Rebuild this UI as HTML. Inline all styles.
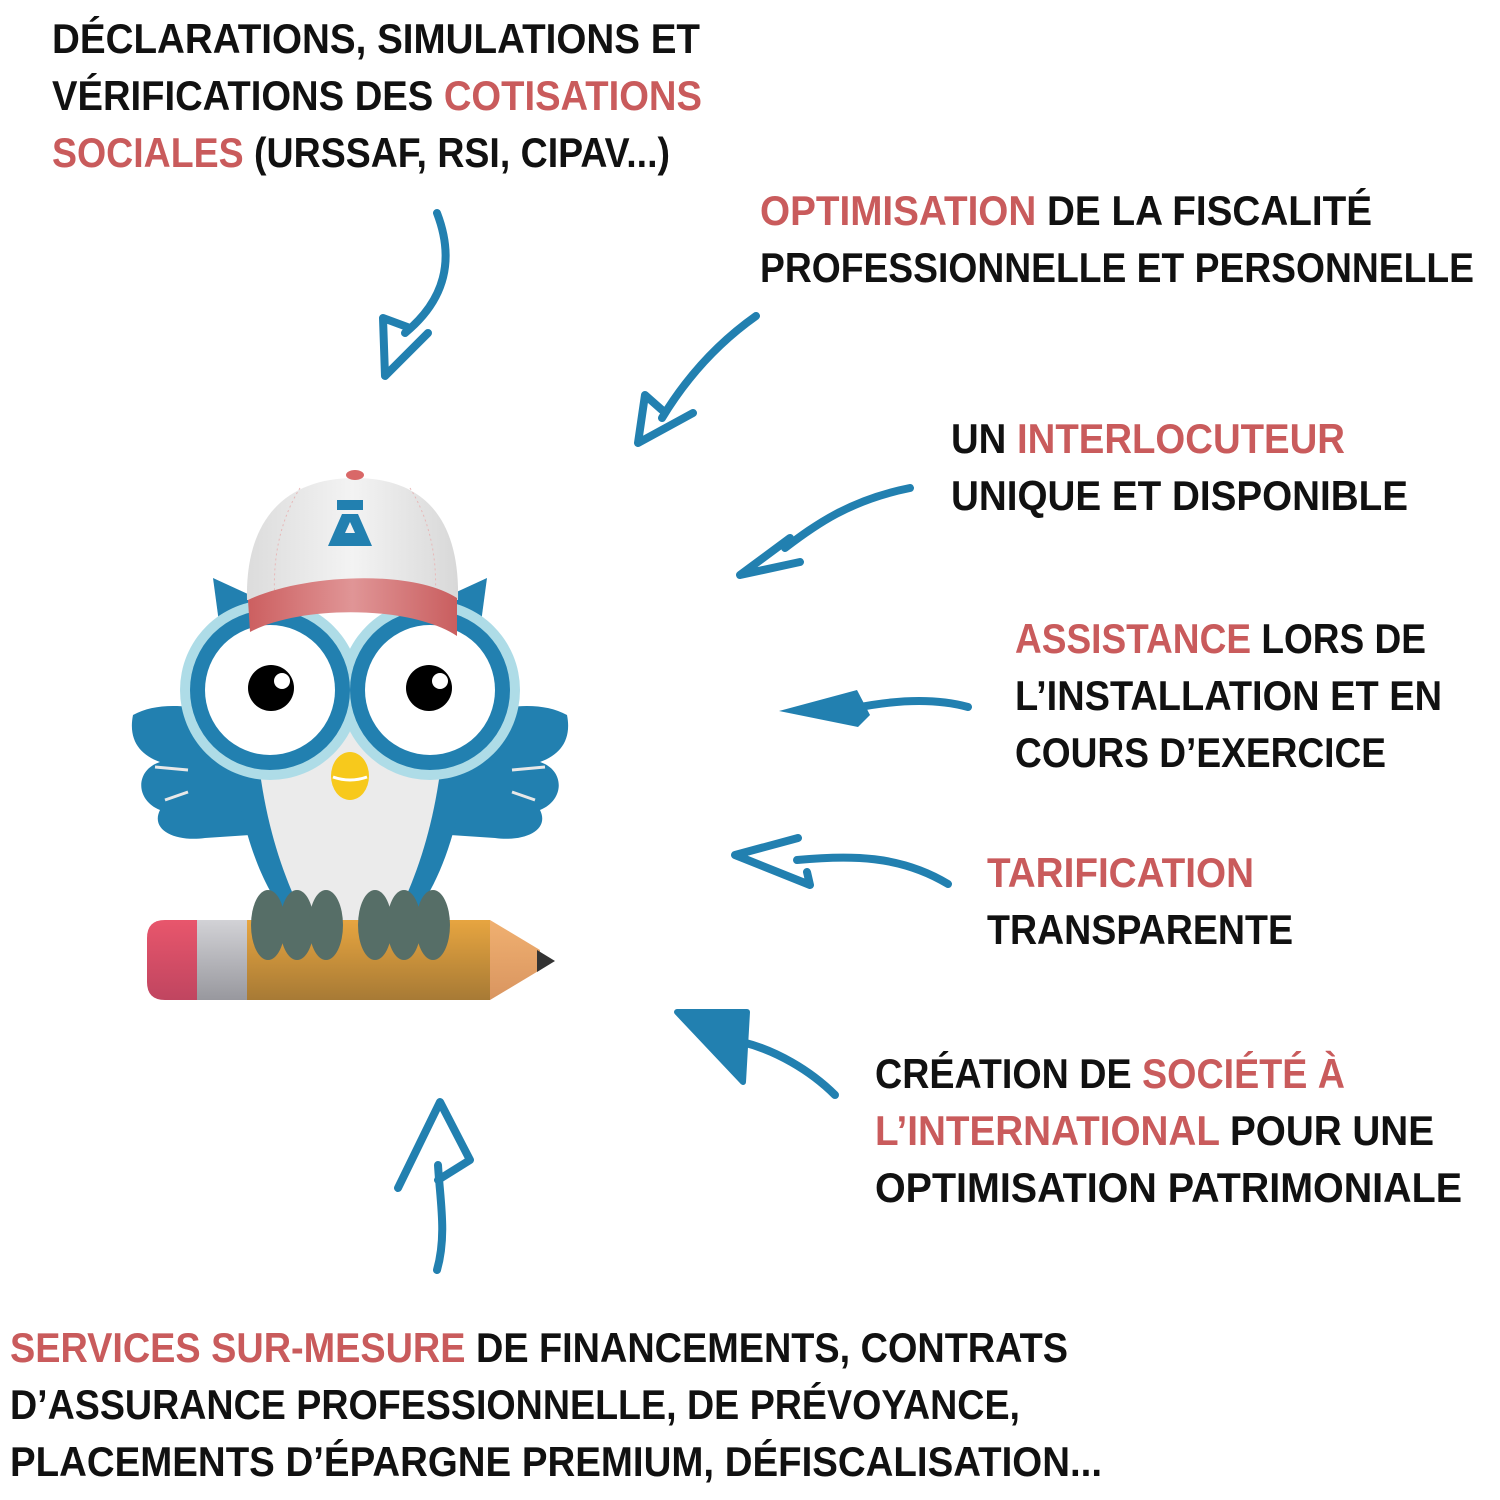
<!DOCTYPE html>
<html><head><meta charset="utf-8"><style>
html,body{margin:0;padding:0;background:#fff}
svg{display:block}
text{font-family:"Liberation Sans",sans-serif;font-weight:bold;font-size:42px;fill:#111}
.r{fill:#c95b5c}
</style></head><body>
<svg width="1500" height="1500" viewBox="0 0 1500 1500" xmlns="http://www.w3.org/2000/svg">
<defs>
<linearGradient id="cap" x1="0" x2="1"><stop offset="0" stop-color="#dcdcdc"/><stop offset="0.5" stop-color="#f3f3f3"/><stop offset="1" stop-color="#d8d8d8"/></linearGradient>
<linearGradient id="brim" x1="0" x2="1"><stop offset="0" stop-color="#cc5f60"/><stop offset="0.5" stop-color="#e09596"/><stop offset="1" stop-color="#c95e5f"/></linearGradient>
<linearGradient id="pen" x1="0" y1="0" x2="0" y2="1"><stop offset="0" stop-color="#e7a540"/><stop offset="1" stop-color="#a77a35"/></linearGradient>
<linearGradient id="tip" x1="0" y1="0" x2="0" y2="1"><stop offset="0" stop-color="#f0b070"/><stop offset="1" stop-color="#d99560"/></linearGradient>
<linearGradient id="er" x1="0" y1="0" x2="0" y2="1"><stop offset="0" stop-color="#e8566c"/><stop offset="1" stop-color="#c04560"/></linearGradient>
<linearGradient id="fe" x1="0" y1="0" x2="0" y2="1"><stop offset="0" stop-color="#d2d2d6"/><stop offset="1" stop-color="#98989e"/></linearGradient>
</defs>

<g transform="translate(0,-2)">
<text x="52" y="55" textLength="648" lengthAdjust="spacingAndGlyphs">DÉCLARATIONS, SIMULATIONS ET</text>
<text x="52" y="112" textLength="650" lengthAdjust="spacingAndGlyphs">VÉRIFICATIONS DES <tspan class="r">COTISATIONS</tspan></text>
<text x="52" y="169" textLength="618" lengthAdjust="spacingAndGlyphs"><tspan class="r">SOCIALES</tspan> (URSSAF, RSI, CIPAV...)</text>

<text x="760" y="227" textLength="612" lengthAdjust="spacingAndGlyphs"><tspan class="r">OPTIMISATION</tspan> DE LA FISCALITÉ</text>
<text x="760" y="284" textLength="714" lengthAdjust="spacingAndGlyphs">PROFESSIONNELLE ET PERSONNELLE</text>

<text x="951" y="455" textLength="394" lengthAdjust="spacingAndGlyphs">UN <tspan class="r">INTERLOCUTEUR</tspan></text>
<text x="951" y="512" textLength="457" lengthAdjust="spacingAndGlyphs">UNIQUE ET DISPONIBLE</text>

<text x="1015" y="655" textLength="411" lengthAdjust="spacingAndGlyphs"><tspan class="r">ASSISTANCE</tspan> LORS DE</text>
<text x="1015" y="712" textLength="427" lengthAdjust="spacingAndGlyphs">L’INSTALLATION ET EN</text>
<text x="1015" y="769" textLength="371" lengthAdjust="spacingAndGlyphs">COURS D’EXERCICE</text>

<text x="987" y="889" textLength="267" lengthAdjust="spacingAndGlyphs" class="r">TARIFICATION</text>
<text x="987" y="946" textLength="306" lengthAdjust="spacingAndGlyphs">TRANSPARENTE</text>

<text x="875" y="1090" textLength="470" lengthAdjust="spacingAndGlyphs">CRÉATION DE <tspan class="r">SOCIÉTÉ À</tspan></text>
<text x="875" y="1147" textLength="559" lengthAdjust="spacingAndGlyphs"><tspan class="r">L’INTERNATIONAL</tspan> POUR UNE</text>
<text x="875" y="1204" textLength="587" lengthAdjust="spacingAndGlyphs">OPTIMISATION PATRIMONIALE</text>

<text x="10" y="1364" textLength="1058" lengthAdjust="spacingAndGlyphs"><tspan class="r">SERVICES SUR-MESURE</tspan> DE FINANCEMENTS, CONTRATS</text>
<text x="10" y="1421" textLength="1010" lengthAdjust="spacingAndGlyphs">D’ASSURANCE PROFESSIONNELLE, DE PRÉVOYANCE,</text>
<text x="10" y="1478" textLength="1092" lengthAdjust="spacingAndGlyphs">PLACEMENTS D’ÉPARGNE PREMIUM, DÉFISCALISATION...</text>
</g>

<g fill="none" stroke="#2280b0" stroke-width="8" stroke-linecap="round" stroke-linejoin="round">
<path d="M437,213 C455,260 445,300 405,333"/>
<path d="M410,328 L383,318 L385,376 L428,333"/>
<path d="M756,316 C715,345 685,380 662,418"/>
<path d="M662,410 L645,395 L638,443 L693,413" />
<path d="M910,488 C850,500 815,525 785,548"/>
<path d="M790,538 L740,575 L800,562"/>
<path d="M968,707 C935,698 895,700 855,708"/>
<path d="M948,884 C900,855 850,855 797,860"/>
<path d="M798,838 L735,855 L810,885 L807,872"/>
<path d="M835,1095 C810,1070 775,1050 742,1042"/>
<path d="M437,1270 C447,1235 440,1200 438,1165"/>
<path d="M438,1180 L470,1160 L440,1102 L398,1188"/>
</g>
<path d="M779,711 L857,690 L870,715 L858,727 Z" fill="#2280b0"/>
<path d="M677,1012 L747,1012 L743,1082 Z" fill="#2280b0" stroke="#2280b0" stroke-width="6" stroke-linejoin="round"/>

<g>
<path d="M245,720 C200,705 160,700 133,715 C128,740 140,755 160,762 C135,770 135,800 160,810 C150,830 175,842 205,838 L250,835 Z" fill="#2280b0"/>
<path d="M455,720 C500,705 540,700 567,715 C572,740 560,755 540,762 C565,770 565,800 540,810 C550,830 525,842 495,838 L450,835 Z" fill="#2280b0"/>
<path d="M155,767 L188,770 M165,800 L188,792" stroke="#e8e8e8" stroke-width="3" fill="none"/>
<path d="M545,767 L512,770 M535,800 L512,792" stroke="#e8e8e8" stroke-width="3" fill="none"/>
<path d="M213,578 L250,595 L240,640 L220,630 Z" fill="#2280b0"/>
<path d="M487,578 L450,595 L460,640 L480,630 Z" fill="#2280b0"/>
<path d="M230,700 C230,800 255,880 290,920 L410,920 C445,880 470,800 470,700 Z" fill="#2280b0"/>
<path d="M255,720 C260,810 280,870 305,920 L395,920 C420,870 440,810 445,720 Z" fill="#ebebeb"/>
<circle cx="270" cy="690" r="90" fill="#aedce7"/>
<circle cx="430" cy="690" r="90" fill="#aedce7"/>
<circle cx="270" cy="690" r="80" fill="#2280b0"/>
<circle cx="430" cy="690" r="80" fill="#2280b0"/>
<circle cx="270" cy="690" r="65" fill="#fff"/>
<circle cx="430" cy="690" r="65" fill="#fff"/>
<circle cx="271" cy="688" r="23" fill="#000"/>
<circle cx="282" cy="681" r="8" fill="#fff"/>
<circle cx="429" cy="688" r="23" fill="#000"/>
<circle cx="440" cy="681" r="8" fill="#fff"/>
<ellipse cx="350" cy="776" rx="19" ry="24" fill="#f7c91c"/>
<path d="M333,777 Q350,783 367,777" stroke="#fff" stroke-width="3" fill="none"/>
<path d="M247,600 C245,520 285,478 355,478 C425,478 460,520 458,600 Z" fill="url(#cap)"/>
<path d="M300,488 C280,520 272,560 275,600 M410,488 C430,520 438,560 435,600" stroke="#e7b8b8" stroke-width="1" stroke-dasharray="2,3" fill="none"/>
<ellipse cx="355" cy="475" rx="9" ry="5" fill="#d96868"/>
<rect x="337" y="500" width="26" height="10" fill="#2280b0"/>
<path d="M342,514 L358,514 L372,546 L328,546 Z M350,522 L345,533 L355,533 Z" fill="#2280b0" fill-rule="evenodd"/>
<path d="M248,600 C300,575 410,568 457,598 L457,636 C410,605 300,605 250,632 Z" fill="url(#brim)"/>
<path d="M165,920 L197,920 L197,1000 L165,1000 Q147,1000 147,982 L147,938 Q147,920 165,920 Z" fill="url(#er)"/>
<rect x="197" y="920" width="50" height="80" fill="url(#fe)"/>
<rect x="247" y="920" width="243" height="80" fill="url(#pen)"/>
<path d="M490,920 L540,950 L540,970 L490,1000 Z" fill="url(#tip)"/>
<path d="M537,950 L555,961 L537,972 Z" fill="#333"/>
<g fill="#566e67">
<ellipse cx="268" cy="925" rx="17" ry="35"/>
<ellipse cx="297" cy="925" rx="17" ry="35"/>
<ellipse cx="326" cy="925" rx="17" ry="35"/>
<ellipse cx="375" cy="925" rx="17" ry="35"/>
<ellipse cx="404" cy="925" rx="17" ry="35"/>
<ellipse cx="433" cy="925" rx="17" ry="35"/>
</g>
</g>
</svg>
</body></html>
